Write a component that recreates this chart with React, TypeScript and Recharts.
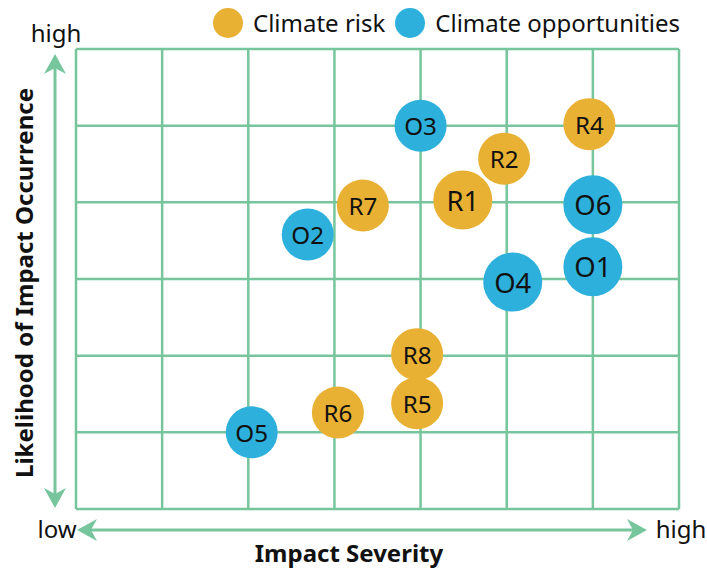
import {
  ScatterChart,
  Scatter,
  XAxis,
  YAxis,
  ZAxis,
  CartesianGrid,
  Legend,
  Customized,
} from "recharts";

// climate risks (no R3 on the map)
const riskLabels = ["R1", "R2", "R4", "R5", "R6", "R7", "R8"];
const riskSeverity = [4.49, 4.97, 5.96, 3.96, 3.04, 3.33, 3.96];
const riskLikelihood = [4.03, 4.57, 5.02, 1.38, 1.26, 3.96, 2.02];
const riskWeight = [2, 1, 1, 1, 1, 1, 1];

// climate opportunities
const oppLabels = ["O1", "O2", "O3", "O4", "O5", "O6"];
const oppSeverity = [6.0, 2.69, 4.0, 5.07, 2.04, 6.0];
const oppLikelihood = [3.16, 3.58, 5.0, 2.96, 1.0, 3.97];
const oppWeight = [2, 1, 1, 2, 1, 2];

const seriesNames = ["Climate risk", "Climate opportunities"];
const severityTicks = [0, 1, 2, 3, 4, 5, 6, 7];
const likelihoodTicks = [0, 1, 2, 3, 4, 5, 6];

const FONT = "'Noto Sans', 'Open Sans', sans-serif";
const GREEN = "#76c59c";
const ORANGE = "#e9b133";
const BLUE = "#2db1dc";

const riskData = riskLabels.map((label, i) => ({
  label,
  x: riskSeverity[i],
  y: riskLikelihood[i],
  z: riskWeight[i],
}));

const oppData = oppLabels.map((label, i) => ({
  label,
  x: oppSeverity[i],
  y: oppLikelihood[i],
  z: oppWeight[i],
}));

const Bubble = (props: any) => {
  const { cx, cy, width, fill, payload } = props;
  const r = width / 2;
  return (
    <g>
      <circle cx={cx} cy={cy} r={r} fill={fill} />
      <text
        x={cx}
        y={cy}
        textAnchor="middle"
        dominantBaseline="central"
        fontSize={r * 0.93}
        fontFamily={FONT}
        fill="#111"
      >
        {payload.label}
      </text>
    </g>
  );
};

const LegendContent = (props: any) => {
  // keep series order instead of the default alphabetical one
  const items = [...(props.payload || [])].sort(
    (a: any, b: any) => seriesNames.indexOf(a.value) - seriesNames.indexOf(b.value)
  );
  return (
    <div style={{ display: "flex", alignItems: "center", fontFamily: FONT }}>
      {items.map((p: any) => (
        <div
          key={p.value}
          style={{ display: "flex", alignItems: "center", marginRight: 10 }}
        >
          <svg width={30} height={30}>
            <circle cx={15} cy={15} r={15} fill={p.color} />
          </svg>
          <span style={{ fontSize: 24, color: "#111", marginLeft: 10 }}>
            {p.value}
          </span>
        </div>
      ))}
    </div>
  );
};

const Decorations = () => {
  const sw = 3;
  return (
    <g>
      {/* vertical double arrow */}
      <line x1={55} y1={68} x2={55} y2={494} stroke={GREEN} strokeWidth={sw} />
      <polygon points="55,54 44,74 55,68 66,74" fill={GREEN} />
      <polygon points="55,508 44,488 55,494 66,488" fill={GREEN} />
      {/* horizontal double arrow */}
      <line x1={90} y1={530} x2={633} y2={530} stroke={GREEN} strokeWidth={sw} />
      <polygon points="77,530 97,519 91,530 97,541" fill={GREEN} />
      <polygon points="647,530 627,519 633,530 627,541" fill={GREEN} />
      <text x={56} y={42} textAnchor="middle" fontSize={24} fontFamily={FONT} fill="#111">
        high
      </text>
      <text x={57} y={538} textAnchor="middle" fontSize={24} fontFamily={FONT} fill="#111">
        low
      </text>
      <text x={681} y={538} textAnchor="middle" fontSize={24} fontFamily={FONT} fill="#111">
        high
      </text>
      <text
        x={349}
        y={562}
        textAnchor="middle"
        fontSize={24}
        fontWeight="bold"
        fontFamily={FONT}
        fill="#111"
      >
        Impact Severity
      </text>
      <text
        x={33}
        y={283}
        textAnchor="middle"
        fontSize={24}
        fontWeight="bold"
        fontFamily={FONT}
        fill="#111"
        transform="rotate(-90 33 283)"
      >
        Likelihood of Impact Occurrence
      </text>
    </g>
  );
};

export default function App() {
  return (
    <div style={{ position: "absolute", left: 0, top: 0, background: "#fff" }}>
      <ScatterChart
        width={707}
        height={569}
        margin={{ top: 16, right: 28, bottom: 60, left: 76 }}
      >
        <CartesianGrid stroke={GREEN} strokeWidth={2.5} />
        <XAxis
          type="number"
          dataKey="x"
          domain={[0, 7]}
          ticks={severityTicks}
          hide
        />
        <YAxis
          type="number"
          dataKey="y"
          domain={[0, 6]}
          ticks={likelihoodTicks}
          hide
        />
        <ZAxis type="number" dataKey="z" domain={[1, 2]} range={[2124, 2734]} />
        <Legend
          verticalAlign="top"
          content={<LegendContent />}
          wrapperStyle={{ top: 6, left: 213, width: "auto" }}
        />
        <Scatter
          name={seriesNames[0]}
          data={riskData}
          fill={ORANGE}
          shape={<Bubble />}
          isAnimationActive={false}
        />
        <Scatter
          name={seriesNames[1]}
          data={oppData}
          fill={BLUE}
          shape={<Bubble />}
          isAnimationActive={false}
        />
        <Customized component={<Decorations />} />
      </ScatterChart>
    </div>
  );
}
